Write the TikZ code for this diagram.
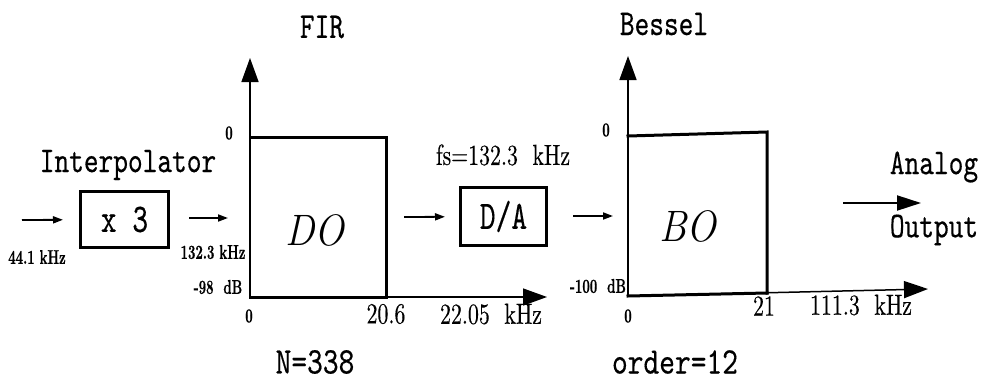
\documentclass[tikz,border=0pt]{standalone}
\usepackage{fontspec}
\usetikzlibrary{arrows.meta}
% typewriter face for block texts and captions, slightly emboldened
\newfontfamily\typefont{lmmono10-regular.otf}[FakeBold=0.4]
% narrow serif face for the scale values
\newfontfamily\valuefont{lmroman10-regular.otf}[FakeBold=0.4]
% heavy face for the small tick labels
\newfontfamily\tickfont{lmroman10-bold.otf}[FakeBold=0.6]
\begin{document}
\begin{tikzpicture}[x=1pt,y=-1pt,
  mono/.style={font=\fontsize{28}{30}\selectfont\typefont, yscale=1.3, inner sep=0pt},
  monobig/.style={font=\fontsize{30}{32}\selectfont\typefont, yscale=1.25, inner sep=0pt},
  cond/.style={font=\fontsize{26}{28}\selectfont\valuefont, xscale=0.84, yscale=1.12, inner sep=0pt},
  small/.style={font=\fontsize{19}{20}\selectfont\tickfont, xscale=0.68, yscale=1.05, inner sep=0pt},
  big/.style={font=\fontsize{44}{46}\selectfont\itshape, xscale=0.9, inner sep=0pt},
  blockbox/.style={draw, line width=3pt, inner sep=0pt},
  blocktext/.style={font=\fontsize{30}{32}\selectfont\typefont, yscale=1.35, inner sep=0pt},
  axis/.style={line width=1.5pt, -{Triangle[length=24pt,width=17pt]}},
  response/.style={line width=3pt, line join=miter, line cap=rect},
  flow/.style={line width=1.8pt, -{Triangle[length=10pt,width=7pt]}},
  outflow/.style={line width=2pt, -{Triangle[length=24pt,width=15pt]}},
]
\useasboundingbox (0,0) rectangle (988,383);

% ---- blocks ----
\node[blockbox, minimum width=88pt, minimum height=56pt] (x3) at (124.5,219.5) {};
\node[blocktext] (x3text) at (x3) {x 3};
\node[blockbox, minimum width=86pt, minimum height=58pt] (da) at (503.5,216.5) {};
\node[blocktext] (datext) at (da) {D/A};

% ---- FIR response plot ----
\coordinate (o1) at (250,297);
\coordinate (y1) at (250,58);
\coordinate (x1) at (547,297);
\coordinate (t1l) at (250,137);
\coordinate (t1r) at (386,137);
\coordinate (b1r) at (386,297);
\draw[axis] (o1) -- (y1);
\draw[axis] (o1) -- (x1);
\draw[response] (t1l) -- (t1r) -- (b1r);
\draw[response] (o1) -- (b1r);

% ---- Bessel response plot ----
\coordinate (o2) at (628,296);
\coordinate (y2) at (628,56);
\coordinate (x2) at (928,289);
\coordinate (t2l) at (628,136);
\coordinate (t2r) at (767,132);
\coordinate (b2r) at (767,293);
\draw[axis] (o2) -- (y2);
\draw[axis] (o2) -- (x2);
\draw[response] (t2l) -- (t2r) -- (b2r);
\draw[response] (o2) -- (b2r);

% ---- signal flow ----
\coordinate (in) at (22,220);
\coordinate (a2s) at (189,218);
\coordinate (a2e) at (228,218);
\coordinate (a3s) at (404,217);
\coordinate (a4s) at (573,216);
\coordinate (a4e) at (613,216);
\coordinate (outs) at (843,203);
\coordinate (oute) at (921,203);
\draw[flow, shorten >=16pt] (in) -- (x3);
\draw[flow] (a2s) -- (a2e);
\draw[flow, shorten >=14pt] (a3s) -- (da);
\draw[flow] (a4s) -- (a4e);
\draw[outflow] (outs) -- (oute);

% ---- titles and captions ----
\node[mono] (fir) at (322,27) {FIR};
\node[mono] (bessel) at (664,24) {Bessel};
\node[mono] (interp) at (128,165) {Interpolator};
\node[mono] (analog) at (934,167) {Analog};
\node[mono] (output) at (934,230) {Output};
\node[monobig] (nfir) at (315,362) {N=338};
\node[monobig] (ord) at (675,362) {order=12};
\node[cond] (fs) at (503,155) {fs=132.3~~kHz};

\node[big] (do) at (315,230) {DO};
\node[big] (bo) at (688,226) {BO};

% ---- axis labels ----
\node[small] (l441) at (37,257) {44.1 kHz};
\node[small] (l1323) at (213,252) {132.3 kHz};
\node[small] (l0a) at (229,133) {0};
\node[small] (l98) at (218,287) {-98~~dB};
\node[small] (l0b) at (249,316) {0};
\node[small] (l0c) at (606,130) {0};
\node[small] (l100) at (598,286) {-100~~dB};
\node[small] (l0d) at (628,316) {0};
\node[cond] (l206) at (386,314) {20.6};
\node[cond] (l2205) at (491,314) {22.05~~kHz};
\node[cond] (l21) at (764,306) {21};
\node[cond] (l1113) at (861,305) {111.3~~kHz};
\end{tikzpicture}
\end{document}
